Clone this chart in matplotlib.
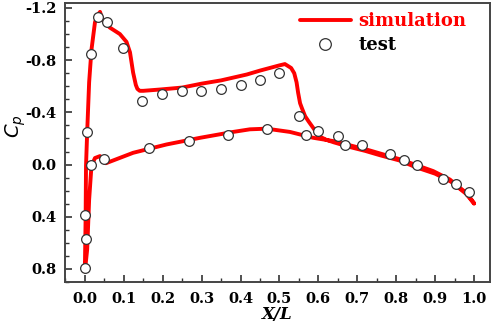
import matplotlib
matplotlib.use("Agg")
import matplotlib.pyplot as plt
from matplotlib.ticker import MultipleLocator

# ---- data ----
test_x = [0.000, 0.004, 0.000, 0.017, 0.049, 0.006, 0.017, 0.033, 0.057, 0.098,
          0.148, 0.199, 0.249, 0.299, 0.349, 0.400, 0.450, 0.500,
          0.166, 0.267, 0.368, 0.469, 0.550, 0.568, 0.600, 0.650, 0.669, 0.712,
          0.783, 0.819, 0.853, 0.921, 0.954, 0.986]
test_cp = [0.79, 0.57, 0.39, 0.00, -0.04, -0.25, -0.85, -1.13, -1.09, -0.89,
           -0.49, -0.54, -0.56, -0.56, -0.58, -0.61, -0.65, -0.705,
           -0.13, -0.18, -0.23, -0.27, -0.37, -0.225, -0.26, -0.215, -0.15, -0.15,
           -0.08, -0.036, 0.005, 0.11, 0.146, 0.213]

sim_x = [1.000, 0.980, 0.940, 0.900, 0.850, 0.810, 0.760, 0.720, 0.680, 0.640,
         0.620, 0.600, 0.587, 0.575, 0.566, 0.558, 0.553, 0.548, 0.544, 0.538,
         0.530, 0.514, 0.500, 0.450, 0.416, 0.350, 0.300, 0.250, 0.193, 0.150,
         0.141, 0.135, 0.131, 0.124, 0.116, 0.107, 0.090, 0.064, 0.045, 0.039,
         0.034, 0.026, 0.017, 0.011, 0.006, 0.003, 0.002, 0.000,
         0.006, 0.011, 0.017, 0.026, 0.039, 0.054, 0.124, 0.210, 0.296, 0.381,
         0.424, 0.467, 0.527, 0.587, 0.638, 0.724, 0.810, 0.895, 0.938, 0.981, 1.000]
sim_cp = [0.300, 0.225, 0.130, 0.070, 0.020, -0.030, -0.070, -0.105, -0.135, -0.170,
          -0.190, -0.220, -0.280, -0.330, -0.370, -0.430, -0.470, -0.550, -0.630, -0.700,
          -0.740, -0.770, -0.760, -0.720, -0.690, -0.645, -0.620, -0.590, -0.575, -0.565,
          -0.565, -0.580, -0.610, -0.705, -0.860, -0.940, -1.000, -1.050, -1.110, -1.170,
          -1.150, -1.090, -0.880, -0.630, -0.250, 0.010, 0.400, 0.820,
          0.650, 0.270, 0.010, -0.050, -0.065, -0.010, -0.090, -0.154, -0.205, -0.250,
          -0.270, -0.275, -0.250, -0.205, -0.180, -0.115, -0.040, 0.050, 0.115, 0.220, 0.295]

x_ticks = [0.0, 0.1, 0.2, 0.3, 0.4, 0.5, 0.6, 0.7, 0.8, 0.9, 1.0]
y_ticks = [-1.2, -0.8, -0.4, 0.0, 0.4, 0.8]

# ---- figure ----
fig = plt.figure(figsize=(4.98, 3.24), dpi=100)
ax = fig.add_axes([65/498, 1-282/324, (490-65)/498, (282-3)/324])

ax.plot(sim_x, sim_cp, color='#ff0000', lw=2.8, solid_joinstyle='round',
        solid_capstyle='round', label='simulation', zorder=2)
ax.plot(test_x, test_cp, linestyle='none', marker='o', ms=7, mfc='white',
        mec='#333333', mew=0.9, label='test', zorder=3)

ax.set_xlim(-0.051, 1.041)
ax.set_ylim(0.9, -1.238)

ax.set_xticks(x_ticks)
ax.set_yticks(y_ticks)
ax.set_xticklabels([f"{v:.1f}" for v in x_ticks])
ax.set_yticklabels([f"{v:.1f}" for v in y_ticks])
ax.xaxis.set_minor_locator(MultipleLocator(0.05))
ax.yaxis.set_minor_locator(MultipleLocator(0.1))

for lab in ax.get_xticklabels() + ax.get_yticklabels():
    lab.set_fontfamily('DejaVu Serif')
    lab.set_fontweight('bold')
    lab.set_fontsize(10.5)

ax.tick_params(which='major', direction='in', length=5, width=1.2, color='#333333',
               top=False, right=False)
ax.tick_params(which='minor', direction='in', length=3, width=1.0, color='#333333',
               top=False, right=False)
ax.tick_params(axis='x', pad=7)
ax.tick_params(axis='y', pad=6)

for s in ax.spines.values():
    s.set_linewidth(1.4)
    s.set_color('#444444')

ax.set_xlabel('X/L', fontfamily='DejaVu Serif', fontweight='bold', fontstyle='italic',
              fontsize=12, labelpad=0)
ax.set_ylabel(r'$\mathbf{\mathit{C}_{\mathit{p}}}$', fontsize=14)
ax.yaxis.set_label_coords(-0.088, 0.56)

leg = ax.legend(loc='upper left', bbox_to_anchor=(300/498, 1-12/324),
                bbox_transform=fig.transFigure, frameon=False,
                prop=dict(family='DejaVu Serif', weight='bold', size=13),
                handlelength=2.8, handletextpad=0.45, labelspacing=0.35,
                borderpad=0, borderaxespad=0, markerscale=1.2)
leg.get_texts()[0].set_color('#ff0000')
leg.get_texts()[1].set_color('black')

fig.savefig('out.png', dpi=100)
